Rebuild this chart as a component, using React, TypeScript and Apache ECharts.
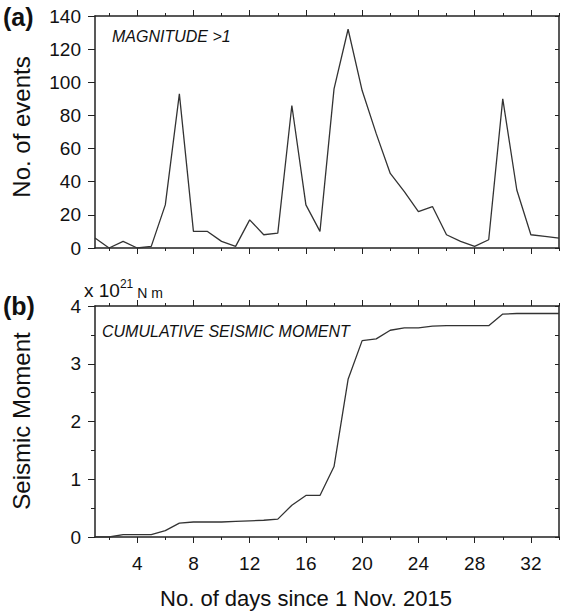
import React, { useEffect, useRef } from "react";
import * as echarts from "echarts";

const days = [1, 2, 3, 4, 5, 6, 7, 8, 9, 10, 11, 12, 13, 14, 15, 16, 17, 18, 19, 20, 21, 22, 23, 24, 25, 26, 27, 28, 29, 30, 31, 32, 33, 34];
const events = [6, 0, 4, 0, 1, 26, 93, 10, 10, 4, 1, 17, 8, 9, 86, 26, 10, 96, 132, 95, 69, 45, 34, 22, 25, 8, 4, 1, 5, 90, 35, 8, 7, 6];
const moment = [0, 0, 0.04, 0.04, 0.04, 0.11, 0.24, 0.26, 0.26, 0.26, 0.27, 0.28, 0.29, 0.31, 0.55, 0.72, 0.72, 1.22, 2.73, 3.4, 3.43, 3.58, 3.62, 3.62, 3.65, 3.66, 3.66, 3.66, 3.66, 3.86, 3.87, 3.87, 3.87, 3.87];

const xMajorTicks = [4, 8, 12, 16, 20, 24, 28, 32];
const xMinorTicks = [2, 6, 10, 14, 18, 22, 26, 30, 34];

const FONT = "Liberation Sans, Arial, Helvetica, sans-serif";
const FRAME = "#222";
const TXT = "#111";

export default function App() {
  const ref = useRef<HTMLDivElement>(null);
  useEffect(() => {
    if (!ref.current) return;
    const chart = echarts.init(ref.current, null, { renderer: "svg" });

    const grids = [
      { left: 95, right: 3, top: 16, height: 232 },
      { left: 95, right: 3, top: 306, height: 231 },
    ];

    const xAxes: any[] = [];
    [0, 1].forEach((g) => {
      const base = { gridIndex: g, type: "value", min: 1, max: 34, splitLine: { show: false } };
      xAxes.push({
        ...base,
        position: "bottom",
        axisLine: { show: true, lineStyle: { color: FRAME, width: 1.5 } },
        axisTick: { show: true, inside: false, length: 6, customValues: xMajorTicks, lineStyle: { color: FRAME, width: 1 } },
        axisLabel: { show: g === 1, customValues: xMajorTicks, fontSize: 19, margin: 17, color: TXT, fontFamily: FONT },
      });
      xAxes.push({
        ...base,
        position: "bottom",
        axisLine: { show: false },
        axisTick: { show: true, inside: false, length: 3, customValues: xMinorTicks, lineStyle: { color: FRAME, width: 1 } },
        axisLabel: { show: false },
      });
      xAxes.push({
        ...base,
        position: "top",
        axisLine: { show: true, lineStyle: { color: FRAME, width: 1.5 } },
        axisTick: { show: true, inside: false, length: 6, customValues: xMajorTicks, lineStyle: { color: FRAME, width: 1 } },
        axisLabel: { show: false },
      });
      xAxes.push({
        ...base,
        position: "top",
        axisLine: { show: false },
        axisTick: { show: true, inside: false, length: 3, customValues: xMinorTicks, lineStyle: { color: FRAME, width: 1 } },
        axisLabel: { show: false },
      });
    });

    const yAxes: any[] = [
      {
        gridIndex: 0, type: "value", position: "left", min: 0, max: 140, interval: 20,
        splitLine: { show: false },
        axisLine: { show: true, lineStyle: { color: FRAME, width: 1.5 } },
        axisTick: { show: true, inside: false, length: 7, lineStyle: { color: FRAME, width: 1 } },
        axisLabel: { fontSize: 19, margin: 14, color: TXT, fontFamily: FONT },
      },
      {
        gridIndex: 0, type: "value", position: "right", min: 0, max: 140, interval: 20,
        splitLine: { show: false },
        axisLine: { show: true, lineStyle: { color: FRAME, width: 1.5 } },
        axisTick: { show: true, inside: true, length: 4, lineStyle: { color: FRAME, width: 1 } },
        axisLabel: { show: false },
      },
      {
        gridIndex: 1, type: "value", position: "left", min: 0, max: 4, interval: 1,
        splitLine: { show: false },
        axisLine: { show: true, lineStyle: { color: FRAME, width: 1.5 } },
        axisTick: { show: true, inside: false, length: 7, lineStyle: { color: FRAME, width: 1 } },
        minorTick: { show: true, splitNumber: 2, length: 4, lineStyle: { color: FRAME, width: 1 } },
        minorSplitLine: { show: false },
        axisLabel: { fontSize: 19, margin: 14, color: TXT, fontFamily: FONT },
      },
      {
        gridIndex: 1, type: "value", position: "right", min: 0, max: 4, interval: 0.5,
        splitLine: { show: false },
        axisLine: { show: true, lineStyle: { color: FRAME, width: 1.5 } },
        axisTick: { show: true, inside: true, length: 4, lineStyle: { color: FRAME, width: 1 } },
        axisLabel: { show: false },
      },
    ];

    chart.setOption({
      animation: false,
      backgroundColor: "#fff",
      grid: grids,
      xAxis: xAxes,
      yAxis: yAxes,
      series: [
        {
          type: "line", xAxisIndex: 0, yAxisIndex: 0, symbol: "none",
          data: days.map((d, i) => [d, events[i]]),
          lineStyle: { color: "#333", width: 1.3 },
        },
        {
          type: "line", xAxisIndex: 4, yAxisIndex: 2, symbol: "none",
          data: days.map((d, i) => [d, moment[i]]),
          lineStyle: { color: "#333", width: 1.3 },
        },
      ],
      graphic: [
        { type: "text", left: 3, top: 4, style: { text: "(a)", fontSize: 25, fontWeight: "bold", fontFamily: FONT, fill: TXT } },
        { type: "text", left: 3, top: 293, style: { text: "(b)", fontSize: 25, fontWeight: "bold", fontFamily: FONT, fill: TXT } },
        {
          type: "text", x: 21, y: 127, rotation: Math.PI / 2,
          style: { text: "No. of events", fontSize: 24, fontFamily: FONT, fill: TXT, align: "center", verticalAlign: "middle" },
        },
        {
          type: "text", x: 21, y: 421, rotation: Math.PI / 2,
          style: { text: "Seismic Moment", fontSize: 24, fontFamily: FONT, fill: TXT, align: "center", verticalAlign: "middle" },
        },
        {
          type: "text", x: 306, y: 598,
          style: { text: "No. of days since 1 Nov. 2015", fontSize: 22, fontFamily: FONT, fill: TXT, align: "center", verticalAlign: "middle" },
        },
        {
          type: "text", x: 112, y: 36,
          style: { text: "MAGNITUDE >1", fontSize: 16, fontStyle: "italic", fontFamily: FONT, fill: TXT, align: "left", verticalAlign: "middle" },
        },
        {
          type: "text", x: 102, y: 331,
          style: { text: "CUMULATIVE SEISMIC MOMENT", fontSize: 16, fontStyle: "italic", fontFamily: FONT, fill: TXT, align: "left", verticalAlign: "middle" },
        },
        {
          type: "text", x: 84, y: 289,
          style: {
            text: "{a|x 10}{b|21}{c| N m}",
            fontFamily: FONT, fill: TXT, align: "left", verticalAlign: "middle",
            rich: {
              a: { fontSize: 19, fontFamily: FONT, fill: TXT, lineHeight: 22, verticalAlign: "bottom" },
              b: { fontSize: 12, fontFamily: FONT, fill: TXT, lineHeight: 22, verticalAlign: "top" },
              c: { fontSize: 14, fontFamily: FONT, fill: TXT, lineHeight: 22, verticalAlign: "bottom" },
            },
          },
        },
      ],
    });

    return () => chart.dispose();
  }, []);

  return <div ref={ref} style={{ position: "fixed", left: 0, top: 0, width: 562, height: 613 }} />;
}
